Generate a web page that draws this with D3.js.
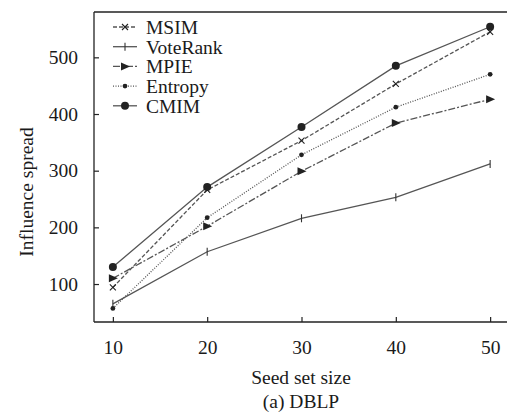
<!DOCTYPE html>
<html><head><meta charset="utf-8">
<script src="https://cdn.jsdelivr.net/npm/d3@7"></script>
<style>body{margin:0;background:#fff}svg{display:block}</style>
</head><body><svg id="c" width="507" height="417"></svg>
<script>
const seedSizes = [10, 20, 30, 40, 50];
const msim     = [94, 266, 353, 453, 545];
const voteRank = [65, 157, 216, 253, 312];
const mpie     = [110, 202, 299, 384, 426];
const entropy  = [57, 217, 328, 412, 470];
const cmim     = [130, 271, 377, 485, 554];
const yTicks = [100, 200, 300, 400, 500];
const seriesNames = ["MSIM", "VoteRank", "MPIE", "Entropy", "CMIM"];
const seriesValues = [msim, voteRank, mpie, entropy, cmim];

const styles = {
  MSIM: {dash: "4,2", marker: "x"},
  VoteRank: {dash: null, marker: "bar"},
  MPIE: {dash: "7,2,2,2", marker: "tri"},
  Entropy: {dash: "1,1.5", marker: "dot"},
  CMIM: {dash: null, marker: "circle"}
};
const lineColor = "#555";
const font = "Liberation Serif, Times New Roman, serif";
const fs = 19.5;

const svg = d3.select("#c");
const L = 94, R = 509, T = 12, B = 322;
const x = d3.scaleLinear().domain([8, 52]).range([L, R]);
const y = d3.scaleLinear().domain([33, 580]).range([B, T]);

svg.append("line").attr("x1", L).attr("x2", 507).attr("y1", T).attr("y2", T).attr("stroke", "#222").attr("stroke-width", 1.3);
svg.append("line").attr("x1", L).attr("x2", 507).attr("y1", B).attr("y2", B).attr("stroke", "#222").attr("stroke-width", 1.3);
svg.append("line").attr("x1", L).attr("x2", L).attr("y1", T).attr("y2", B).attr("stroke", "#222").attr("stroke-width", 1.3);

const xAxis = svg.append("g").attr("transform", `translate(0,${B})`)
  .call(d3.axisBottom(x).tickValues(seedSizes).tickSizeInner(-5).tickSizeOuter(0).tickPadding(18));
const yAxis = svg.append("g").attr("transform", `translate(${L},0)`)
  .call(d3.axisLeft(y).tickValues(yTicks).tickSizeInner(-5).tickSizeOuter(0).tickPadding(16));
[xAxis, yAxis].forEach(g => {
  g.select(".domain").remove();
  g.selectAll(".tick line").attr("stroke", "#222").attr("stroke-width", 1.2);
  g.selectAll(".tick text").attr("font-family", font).attr("font-size", fs).attr("fill", "#1a1a1a");
});

function drawMarker(g, type, cx, cy) {
  if (type === "circle") {
    g.append("circle").attr("cx", cx).attr("cy", cy).attr("r", 4).attr("fill", "#222");
  } else if (type === "dot") {
    g.append("circle").attr("cx", cx).attr("cy", cy).attr("r", 2.4).attr("fill", "#222");
  } else if (type === "tri") {
    g.append("path").attr("d", `M${cx-4},${cy-4}L${cx+5},${cy}L${cx-4},${cy+4}Z`).attr("fill", "#222");
  } else if (type === "x") {
    g.append("path").attr("d", `M${cx-3},${cy-3}L${cx+3},${cy+3}M${cx-3},${cy+3}L${cx+3},${cy-3}`).attr("stroke", "#222").attr("stroke-width", 1.1);
  } else if (type === "bar") {
    g.append("path").attr("d", `M${cx},${cy-4}L${cx},${cy+4}`).attr("stroke", "#333").attr("stroke-width", 1.1);
  }
}

const line = d3.line().x(d => x(d[0])).y(d => y(d[1]));
seriesNames.forEach((name, i) => {
  const pts = seedSizes.map((s, j) => [s, seriesValues[i][j]]);
  const g = svg.append("g");
  g.append("path").attr("d", line(pts)).attr("fill", "none").attr("stroke", lineColor)
    .attr("stroke-width", 1.3).attr("stroke-dasharray", styles[name].dash);
  pts.forEach(p => drawMarker(g, styles[name].marker, x(p[0]), y(p[1])));
});

const leg = svg.append("g");
seriesNames.forEach((name, i) => {
  const cy = 27 + i * 19.7;
  leg.append("line").attr("x1", 113).attr("x2", 137).attr("y1", cy).attr("y2", cy)
    .attr("stroke", lineColor).attr("stroke-width", 1.3).attr("stroke-dasharray", styles[name].dash);
  drawMarker(leg, styles[name].marker, 125, cy);
  leg.append("text").attr("x", 146).attr("y", cy).attr("dy", "0.35em").text(name)
    .attr("font-family", font).attr("font-size", fs).attr("fill", "#1a1a1a");
});

svg.append("text").attr("transform", "translate(26,192) rotate(-90)").attr("text-anchor", "middle")
  .attr("dy", "0.35em").attr("font-family", font).attr("font-size", fs).attr("fill", "#1a1a1a").text("Influence spread");
svg.append("text").attr("x", 301).attr("y", 377).attr("dy", "0.35em").attr("text-anchor", "middle")
  .attr("font-family", font).attr("font-size", fs).attr("fill", "#1a1a1a").text("Seed set size");
svg.append("text").attr("x", 301).attr("y", 401).attr("dy", "0.35em").attr("text-anchor", "middle")
  .attr("font-family", font).attr("font-size", fs).attr("fill", "#1a1a1a").text("(a) DBLP");
</script></body></html>
